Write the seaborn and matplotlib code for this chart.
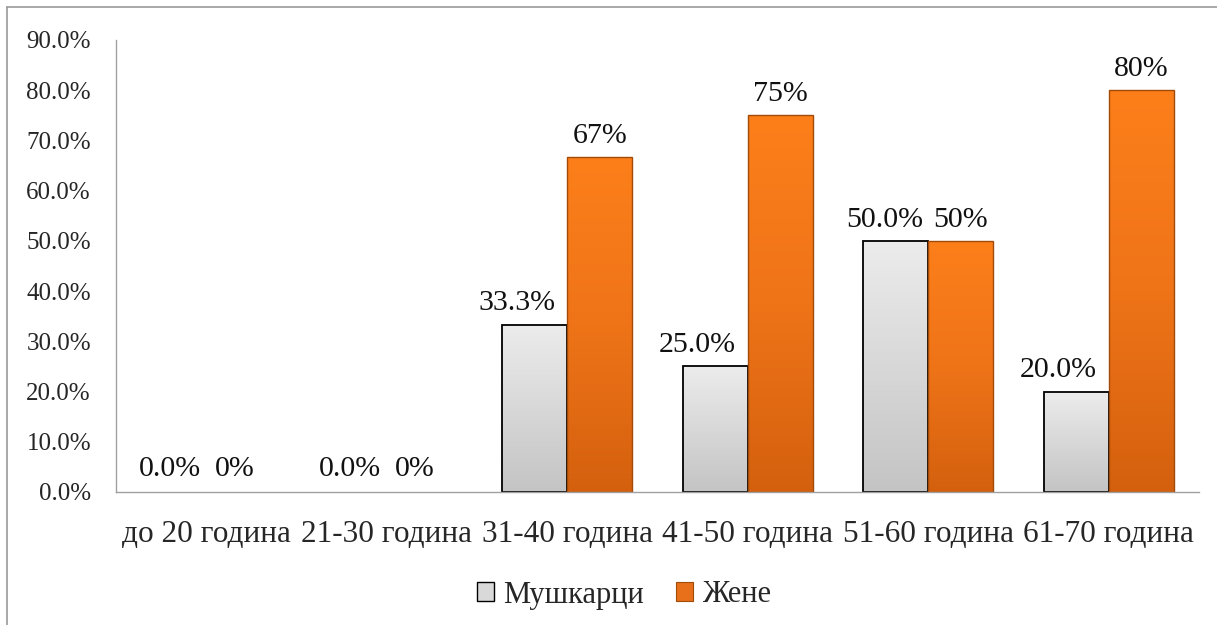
import numpy as np
import pandas as pd
import matplotlib
matplotlib.use("Agg")
import matplotlib.pyplot as plt
import seaborn as sns
from matplotlib.colors import LinearSegmentedColormap
from matplotlib.lines import Line2D
from matplotlib.patches import Patch

categories = ["до 20 година", "21-30 година", "31-40 година", "41-50 година", "51-60 година", "61-70 година"]
series_names = ["Мушкарци", "Жене"]
men_values = [0.0, 0.0, 33.3, 25.0, 50.0, 20.0]
women_values = [0.0, 0.0, 66.7, 75.0, 50.0, 80.0]
men_labels = ["0.0%", "0.0%", "33.3%", "25.0%", "50.0%", "20.0%"]
women_labels = ["0%", "0%", "67%", "75%", "50%", "80%"]
y_ticks = [0, 10, 20, 30, 40, 50, 60, 70, 80, 90]

# horizontal nudges (in points) of the data labels, as placed in the original
men_label_dx = [-3, -3, -13, -13, -8, -13]
women_label_dx = [-3, -3, 0, 0, 0, 0]

df = pd.DataFrame({
    "category": categories * 2,
    "series": [series_names[0]] * len(categories) + [series_names[1]] * len(categories),
    "value": men_values + women_values,
})

sns.set_theme(style="white")
plt.rcParams["font.family"] = ["Liberation Serif", "DejaVu Serif"]

fig = plt.figure(figsize=(12.17, 6.25), dpi=100)
ax = fig.add_axes([116 / 1217, 1 - 492 / 625, (1199 - 116) / 1217, (492 - 40) / 625])

palette = {series_names[0]: "#d9d9d9", series_names[1]: "#f07a1e"}
sns.barplot(data=df, x="category", y="value", hue="series", order=categories,
            hue_order=series_names, palette=palette, width=0.72, gap=0,
            saturation=1, legend=False, ax=ax)

ax.set_ylim(0, 90)
ax.set_xlim(-0.5, len(categories) - 0.5)
ax.set_yticks(y_ticks)
ax.set_yticklabels([f"{t:.1f}%" for t in y_ticks], fontsize=18)
ax.tick_params(axis="x", labelsize=22.5, length=0, pad=20)
ax.tick_params(axis="y", length=0, pad=18)
ax.set_xlabel("")
ax.set_ylabel("")
for s in ["top", "right"]:
    ax.spines[s].set_visible(False)
for s in ["left", "bottom"]:
    ax.spines[s].set_color("#a0a0a0")
    ax.spines[s].set_linewidth(1.0)

gray_cmap = LinearSegmentedColormap.from_list("g", ["#c4c4c4", "#ececec"])
orange_cmap = LinearSegmentedColormap.from_list("o", ["#d4600e", "#ef7418", "#fc7f1a"])
grad = np.linspace(0, 1, 256).reshape(-1, 1)

n = len(categories)
patches = list(ax.patches)
men_patches = patches[:n]
women_patches = patches[n:2 * n]

for p in men_patches:
    h = p.get_height()
    p.set_edgecolor("black")
    p.set_linewidth(1.3)
    if h > 0:
        x0 = p.get_x(); w = p.get_width()
        im = ax.imshow(grad, extent=[x0, x0 + w, 0, h], origin="lower", cmap=gray_cmap,
                       aspect="auto", zorder=p.get_zorder() + 0.1)
        im.set_clip_path(p)
        p.set_facecolor("none")
        p.set_zorder(p.get_zorder() + 0.2)
    else:
        p.set_linewidth(0)

for p in women_patches:
    h = p.get_height()
    p.set_edgecolor("#a24a08")
    p.set_linewidth(1.0)
    if h > 0:
        x0 = p.get_x(); w = p.get_width()
        im = ax.imshow(grad, extent=[x0, x0 + w, 0, h], origin="lower", cmap=orange_cmap,
                       aspect="auto", zorder=p.get_zorder() + 0.1)
        im.set_clip_path(p)
        p.set_facecolor("none")
        p.set_zorder(p.get_zorder() + 0.2)
    else:
        p.set_linewidth(0)

ax.set_xlim(-0.5, len(categories) - 0.5)
ax.set_ylim(0, 90)

def put_labels(patch_list, labels, dxs):
    for p, lab, dx in zip(patch_list, labels, dxs):
        dy = 6 if p.get_height() > 0 else 7.5
        ax.annotate(lab, (p.get_x() + p.get_width() / 2, p.get_height()),
                    xytext=(dx, dy), textcoords="offset points",
                    ha="center", va="bottom", fontsize=21.5, color="#111111")

put_labels(men_patches, men_labels, men_label_dx)
put_labels(women_patches, women_labels, women_label_dx)

handles = [Patch(facecolor="#d9d9d9", edgecolor="black", linewidth=1.0),
           Patch(facecolor="#e8701a", edgecolor="#a24a08", linewidth=0.8)]
fig.legend(handles, series_names, loc="center", bbox_to_anchor=(624 / 1217, 1 - 595 / 625),
           ncol=2, frameon=False, fontsize=22, handlelength=0.55, handleheight=0.55,
           handletextpad=0.3, columnspacing=1.05)

# outer chart frame
fig.add_artist(Line2D([7 / 1217, 7 / 1217], [0, 1 - 7 / 625], transform=fig.transFigure,
                      color="#9a9a9a", linewidth=1.2))
fig.add_artist(Line2D([7 / 1217, 1], [1 - 7 / 625, 1 - 7 / 625], transform=fig.transFigure,
                      color="#9a9a9a", linewidth=1.2))

fig.savefig("out.png", dpi=100)
